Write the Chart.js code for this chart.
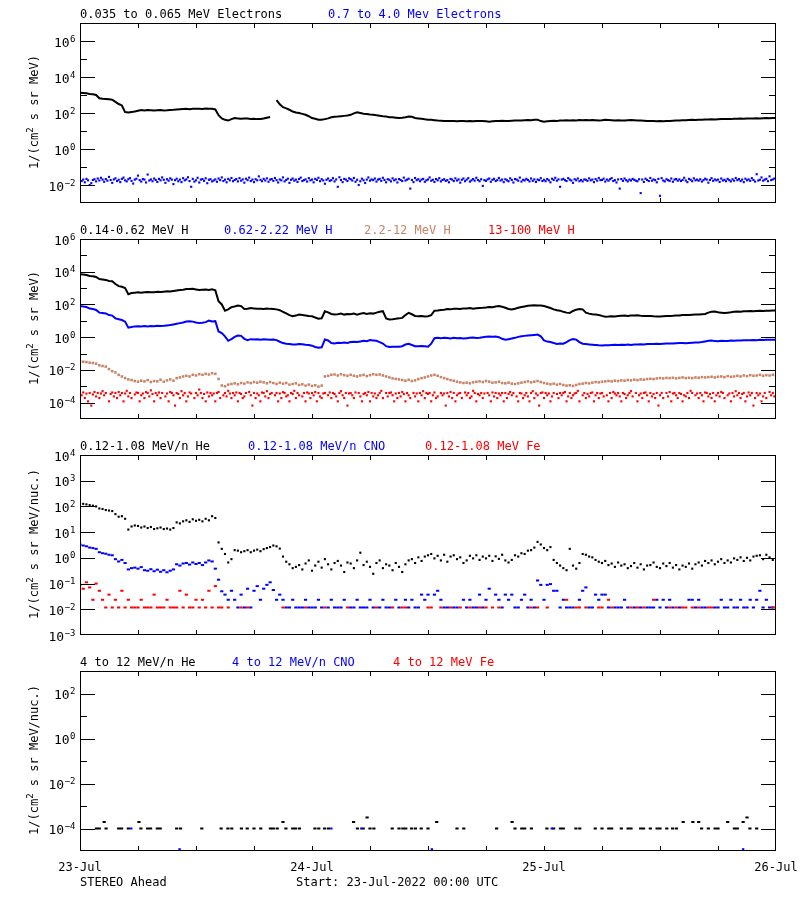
<!DOCTYPE html>
<html>
<head>
<meta charset="utf-8">
<script src="https://cdn.jsdelivr.net/npm/chart.js@4.4.0/dist/chart.umd.min.js"></script>
<style>
html, body { margin: 0; padding: 0; background: #fff; }
#wrap { position: relative; width: 800px; height: 900px; }
#wrap canvas { position: absolute; left: 0; top: 0; width: 800px; height: 900px; }
</style>
</head>
<body>
<div id="wrap">
	<canvas id="p1" width="800" height="900"></canvas>
	<canvas id="p2" width="800" height="900"></canvas>
	<canvas id="p3" width="800" height="900"></canvas>
	<canvas id="p4" width="800" height="900"></canvas>
</div>
<script>
// all values are log10 of the flux, hours from 23-Jul 00:00
const STEP = 1 / 3   // 20 min
const STEP_FINE = 1 / 6   // 10 min

const dateLabels = ['23-Jul', '24-Jul', '25-Jul', '26-Jul']
const dateHours = [0, 24, 48, 72]
const xTickHours = [6, 12, 18, 24, 30, 36, 42, 48, 54, 60, 66]

// --- panel 1 : electrons
const elecLow = [
	3.12,3.11,3.10, 3.06,3.04,3.00, 2.82,2.79,2.78, 2.76,2.74,2.62, 2.50,2.42,2.05, 2.03,2.06,2.08,
	2.12,2.16,2.14, 2.16,2.15,2.14, 2.15,2.16,2.14, 2.15,2.17,2.18, 2.20,2.21,2.22, 2.23,2.21,2.24,
	2.23,2.24,2.22, 2.25,2.24,2.23, 2.20,1.88,1.70, 1.62,1.58,1.66, 1.72,1.70,1.68, 1.70,1.69,1.67,
	1.68,1.66,1.67, 1.70,1.74,1.78, null,2.72,2.48, 2.32,2.26,2.18, 2.08,2.03,2.00, 1.95,1.90,1.82,
	1.72,1.68,1.63, 1.62,1.66,1.70, 1.76,1.79,1.80, 1.82,1.84,1.86, 1.90,1.98,2.04, 2.00,1.96,1.95,
	1.92,1.90,1.88, 1.85,1.82,1.80, 1.77,1.76,1.74, 1.72,1.73,1.76, 1.80,1.79,1.72, 1.70,1.68,1.65,
	1.63,1.62,1.60, 1.58,1.57,1.56, 1.56,1.55,1.55, 1.54,1.56,1.55, 1.54,1.55,1.54, 1.55,1.56,1.55,
	1.54,1.52,1.54, 1.55,1.56,1.57, 1.56,1.55,1.57, 1.58,1.59,1.58, 1.60,1.61,1.60, 1.62,1.63,1.55,
	1.52,1.54,1.56, 1.57,1.56,1.58, 1.59,1.60,1.59, 1.60,1.59,1.61, 1.60,1.61,1.60, 1.61,1.60,1.59,
	1.60,1.62,1.61, 1.60,1.59,1.60, 1.59,1.58,1.60, 1.61,1.60,1.59, 1.58,1.57,1.56, 1.56,1.55,1.54,
	1.55,1.54,1.55, 1.56,1.57,1.58, 1.59,1.60,1.60, 1.61,1.62,1.61, 1.62,1.63,1.64, 1.64,1.65,1.64,
	1.65,1.66,1.66, 1.67,1.66,1.68, 1.68,1.69,1.68, 1.70,1.69,1.70, 1.71,1.70,1.71, 1.72,1.71,1.72,
	1.72
]
const elecHigh = [
	-1.62,-1.78,-1.70,-1.85,-1.66,-1.74,-2.00,-1.90,-1.72,-1.68,-1.80,-1.64,
	-1.75,-1.60,-1.70,-1.82,-1.67,-1.76,-1.55,-1.72,-1.88,-1.69,-1.63,-1.78,
	-1.71,-1.84,-1.66,-1.59,-1.74,-1.80,-1.68,-1.62,-1.77,-1.92,-1.70,-1.65,
	-1.48,-1.73,-1.81,-1.67,-1.70,-1.86,-1.42,-1.75,-1.69,-1.79,-1.64,-1.72,
	-1.83,-1.66,-1.74,-1.58,-1.71,-1.88,-1.68,-1.76,-1.63,-1.70,-1.95,-1.73,
	-1.65,-1.79,-1.70,-1.84,-1.62,-1.74,-1.69,-1.57,-1.78,-2.10,-1.66,-1.81,
	-1.74,-1.60,-1.86,-1.70,-1.67,-1.77,-1.63,-1.90,-1.71,-1.68,-1.80,-1.75,
	-1.69,-1.82,-1.64,-1.73,-1.58,-1.78,-1.70,-1.85,-1.66,-1.74,-1.61,-1.79,
	-1.72,-1.67,-1.80,-1.62,-1.76,-1.69,-1.87,-1.65,-1.73,-1.59,-1.78,-1.70,
	-1.84,-1.68,-1.74,-1.52,-1.71,-1.79,-1.66,-1.75,-1.63,-1.82,-1.70,-1.67,
	-1.77,-1.61,-1.73,-1.86,-1.69,-1.74,-1.58,-1.80,-1.72,-1.65,-1.88,-1.71,
	-1.64,-1.76,-1.70,-1.83,-1.67,-1.59,-1.78,-1.73,-1.69,-1.81,-1.62,-1.74,
	-1.70,-1.85,-1.66,-1.72,-1.60,-1.79,-1.68,-1.75,-1.93,-1.71,-1.64,-1.77,
	-1.73,-1.62,-1.80,-1.69,-2.10,-1.57,-1.72,-1.84,-1.66,-1.70,-1.78,-1.63,
	-1.68,-1.75,-1.61,-1.82,-1.71,-2.00,-1.79,-1.65,-1.74,-1.89,-1.70,-1.58,
	-1.76,-1.69,-1.73,-1.64,-1.81,-1.70,-1.66,-1.77,-1.60,-1.72,-1.85,-1.68,
	-1.71,-1.80,-1.63,-1.74,-1.69,-1.86,-1.67,-1.72,-1.78,-1.59,-1.75,-1.70,
	-1.65,-2.20,-1.72,-1.84,-1.61,-1.73,-1.68,-1.79,-1.70,-1.66,-1.82,-1.74,
	-1.69,-1.58,-1.76,-1.71,-1.83,-1.67,-1.74,-1.62,-1.80,-1.72,-1.68,-1.77,
	-1.73,-1.85,-1.66,-1.70,-1.78,-1.63,-1.75,-1.69,-1.87,-1.71,-1.64,-1.79,
	-1.70,-1.62,-1.81,-1.74,-1.67,-1.76,-1.60,-1.72,-1.79,-1.68,-2.05,-1.73,
	-1.77,-1.69,-1.64,-1.82,-1.71,-1.66,-1.78,-1.73,-1.61,-1.75,-1.70,-1.84,
	-1.68,-1.74,-1.79,-1.63,-1.72,-1.86,-1.67,-1.70,-1.76,-1.59,-1.81,-1.71,
	-1.75,-1.66,-1.72,-1.80,-1.64,-1.77,-1.69,-1.83,-1.70,-1.73,-1.62,-1.78,
	-1.71,-1.79,-1.67,-1.74,-1.85,-1.65,-1.72,-1.60,-1.76,-1.69,-2.10,-1.70,
	-1.66,-1.73,-1.78,-1.62,-1.70,-1.75,-1.88,-1.68,-1.74,-1.64,-1.79,-1.72,
	-1.80,-1.69,-1.71,-1.77,-1.63,-1.74,-1.70,-1.84,-1.67,-1.76,-1.61,-1.73,
	-1.72,-1.65,-1.81,-1.70,-1.76,-1.68,-1.62,-1.78,-1.73,-1.86,-1.69,-2.20,
	-1.67,-1.77,-1.64,-1.73,-1.80,-1.70,-1.75,-1.66,-1.71,-1.76,-1.79,-1.68,
	-2.45,-1.70,-1.83,-1.65,-1.72,-1.78,-1.61,-1.76,-1.69,-1.73,-1.85,-1.66,
	-2.60,-1.62,-1.75,-1.80,-1.68,-1.73,-1.77,-1.64,-1.82,-1.70,-1.67,-1.76,
	-1.69,-1.78,-1.72,-1.60,-1.75,-1.84,-1.66,-1.71,-1.79,-1.63,-1.74,-1.70,
	-1.76,-1.68,-1.81,-1.73,-1.65,-1.70,-1.87,-1.72,-1.62,-1.77,-1.69,-1.74,
	-1.70,-1.83,-1.64,-1.75,-1.71,-1.79,-1.66,-1.73,-1.80,-1.68,-1.76,-1.61,
	-1.73,-1.67,-1.78,-1.70,-1.84,-1.65,-1.74,-1.69,-1.77,-1.62,-1.72,-1.81,
	-1.40,-1.75,-1.71,-1.58,-1.76,-1.70,-1.66,-1.79,-1.52,-1.73,-1.69,-1.64,
	-1.70
]

// --- panel 2 : protons
const hLow = [
	3.85,3.83,3.80, 3.74,3.72,3.68, 3.55,3.53,3.50, 3.44,3.42,3.25, 3.12,3.08,3.00, 2.63,2.70,2.72,
	2.74,2.72,2.75, 2.76,2.74,2.75, 2.77,2.76,2.78, 2.80,2.79,2.82, 2.85,2.88,2.90, 2.95,2.94,2.96,
	2.92,2.88,2.90, 2.91,2.89,2.93, 2.86,2.20,2.00, 1.62,1.70,1.84, 1.88,1.94,1.90, 1.72,1.74,1.78,
	1.76,1.74,1.73, 1.72,1.75,1.73, 1.72,1.70,1.65, 1.55,1.45,1.35, 1.28,1.32,1.39, 1.36,1.33,1.30,
	1.28,1.20,1.13, 1.15,1.58,1.52, 1.42,1.38,1.40, 1.44,1.38,1.42, 1.40,1.45,1.38, 1.43,1.47,1.42,
	1.46,1.44,1.50, 1.55,1.59,1.15, 1.08,1.10,1.13, 1.15,1.18,1.35, 1.49,1.40,1.30, 1.28,1.30,1.26,
	1.28,1.35,1.62, 1.63,1.66,1.68, 1.72,1.70,1.74, 1.73,1.72,1.76, 1.75,1.78,1.74, 1.77,1.79,1.80,
	1.82,1.85,1.83, 1.88,1.90,1.86, 1.80,1.72,1.69, 1.74,1.80,1.84, 1.88,1.92,1.94, 1.95,1.94,1.93,
	1.90,1.84,1.78, 1.70,1.65,1.62, 1.55,1.50,1.48, 1.60,1.68,1.72, 1.70,1.50,1.44, 1.40,1.38,1.36,
	1.30,1.25,1.26, 1.28,1.27,1.30, 1.31,1.32,1.30, 1.33,1.32,1.34, 1.31,1.30,1.29, 1.30,1.28,1.27,
	1.27,1.28,1.29, 1.30,1.31,1.33, 1.33,1.35,1.36, 1.35,1.37,1.38, 1.38,1.40,1.42, 1.50,1.55,1.57,
	1.52,1.50,1.48, 1.50,1.52,1.55, 1.57,1.56,1.58, 1.58,1.60,1.59, 1.60,1.61,1.60, 1.62,1.61,1.63,
	1.63
]
const hMid = [
	1.90,1.88,1.84, 1.75,1.72,1.66, 1.50,1.48,1.45, 1.35,1.32,1.15, 1.10,1.05,0.95, 0.58,0.62,0.66,
	0.67,0.65,0.68, 0.66,0.68,0.67, 0.70,0.69,0.70, 0.72,0.74,0.78, 0.82,0.86,0.90, 0.96,0.98,0.95,
	0.90,0.86,0.88, 0.92,1.02,0.96, 0.98,0.35,0.25, 0.05,-0.22,-0.12, 0.02,0.10,0.08, -0.10,-0.18,-0.12,
	-0.14,-0.12,-0.15, -0.13,-0.14,-0.16, -0.14,-0.18,-0.28, -0.36,-0.40,-0.42, -0.45,-0.44,-0.42, -0.43,-0.46,-0.48,
	-0.52,-0.60,-0.65, -0.62,-0.14,-0.20, -0.36,-0.39,-0.34, -0.36,-0.32,-0.35, -0.30,-0.28,-0.30, -0.26,-0.22,-0.25,
	-0.18,-0.20,-0.22, -0.30,-0.39,-0.55, -0.60,-0.58,-0.59, -0.59,-0.55,-0.45, -0.41,-0.48,-0.55, -0.55,-0.54,-0.56,
	-0.58,-0.40,-0.06, -0.04,-0.06,-0.03, -0.05,-0.08,-0.04, -0.06,-0.05,-0.08, -0.06,-0.04,-0.02, -0.05,-0.03,0.00,
	0.02,0.04,0.02, 0.04,0.00,-0.10, -0.16,-0.12,-0.08, -0.04,0.02,0.06, 0.08,0.10,0.12, 0.14,0.16,0.05,
	-0.20,-0.27,-0.30, -0.36,-0.41,-0.38, -0.40,-0.30,-0.18, -0.12,-0.15,-0.30, -0.40,-0.42,-0.44, -0.46,-0.48,-0.50,
	-0.51,-0.49,-0.50, -0.48,-0.47,-0.48, -0.46,-0.47,-0.45, -0.47,-0.45,-0.44, -0.43,-0.44,-0.42, -0.41,-0.42,-0.40,
	-0.41,-0.40,-0.39, -0.38,-0.39,-0.37, -0.36,-0.35,-0.37, -0.35,-0.34,-0.33, -0.32,-0.30,-0.26, -0.22,-0.20,-0.24,
	-0.25,-0.22,-0.24, -0.23,-0.21,-0.22, -0.20,-0.21,-0.19, -0.18,-0.19,-0.17, -0.18,-0.16,-0.17, -0.15,-0.16,-0.15,
	-0.16
]
const hHigh = [
	-1.47,-1.50,-1.52, -1.56,-1.58,-1.62, -1.72,-1.76,-1.80, -1.95,-2.08,-2.15, -2.30,-2.40,-2.50, -2.58,-2.62,-2.68,
	-2.72,-2.66,-2.70, -2.62,-2.74,-2.68, -2.70,-2.60,-2.72, -2.64,-2.58,-2.66, -2.50,-2.46,-2.40, -2.36,-2.40,-2.30,
	-2.34,-2.26,-2.30, -2.24,-2.28,-2.20, -2.24,-2.55,-2.95, -3.00,-2.90,-2.86, -2.82,-2.88,-2.80, -2.84,-2.76,-2.80,
	-2.74,-2.78,-2.72, -2.76,-2.82,-2.74, -2.80,-2.86,-2.78, -2.84,-2.80,-2.90, -2.86,-2.82,-2.92, -2.88,-2.96,-2.90,
	-2.98,-2.94,-3.02, -2.96,-2.40,-2.36, -2.30,-2.28,-2.34, -2.26,-2.32,-2.36, -2.30,-2.36,-2.40, -2.34,-2.30,-2.38,
	-2.32,-2.26,-2.30, -2.28,-2.34,-2.40, -2.46,-2.52,-2.55, -2.58,-2.62,-2.66, -2.60,-2.68,-2.64, -2.56,-2.50,-2.46,
	-2.40,-2.34,-2.30, -2.36,-2.44,-2.50, -2.56,-2.62,-2.66, -2.72,-2.76,-2.80, -2.78,-2.82,-2.76, -2.72,-2.70,-2.74,
	-2.68,-2.72,-2.78, -2.76,-2.72,-2.80, -2.82,-2.78,-2.84, -2.86,-2.82,-2.78, -2.74,-2.70,-2.76, -2.72,-2.68,-2.74,
	-2.80,-2.84,-2.88, -2.84,-2.90,-2.86, -2.92,-2.96,-2.94, -2.98,-2.92,-2.86, -2.84,-2.80,-2.82, -2.78,-2.74,-2.76,
	-2.72,-2.70,-2.68, -2.70,-2.66,-2.68, -2.64,-2.66,-2.62, -2.64,-2.60,-2.62, -2.58,-2.60,-2.56, -2.54,-2.56,-2.52,
	-2.50,-2.52,-2.49, -2.50,-2.48,-2.52, -2.49,-2.46,-2.50, -2.48,-2.50,-2.46, -2.48,-2.44,-2.46, -2.44,-2.42,-2.46,
	-2.42,-2.40,-2.44, -2.38,-2.42,-2.40, -2.36,-2.40,-2.34, -2.38,-2.32,-2.36, -2.34,-2.30,-2.36, -2.32,-2.34,-2.30,
	-2.32
]
const hTop = [
	-3.41,-3.55,-3.38,-3.72,-3.45,-3.92,-3.41,-4.18,-3.50,-3.35,-3.62,-3.41,
	-3.72,-3.44,-3.30,-3.55,-3.41,null,-3.92,-3.47,-3.38,-3.62,-3.41,-3.72,
	-3.35,-3.55,-3.41,-3.92,-3.44,-3.28,-3.62,-3.41,-3.72,null,-3.50,-3.38,
	-3.41,-3.92,-3.55,-3.44,-3.72,-3.36,-3.41,-3.62,-3.25,-3.47,-3.92,-3.41,
	-3.55,-3.38,-3.72,-3.41,null,-3.62,-3.44,-3.92,-3.35,-3.41,-3.55,-4.18,
	-3.41,-3.47,-3.72,-3.30,-3.55,-3.41,-3.92,-3.62,-3.38,-3.44,null,-3.72,
	-3.41,-3.55,-3.20,-3.41,-3.72,-3.47,-3.92,-3.38,-3.62,-3.41,-3.55,-3.44,
	-3.92,-3.41,-3.35,-3.72,null,-3.55,-3.41,-3.62,-3.28,-3.44,-3.72,-3.41,
	-3.55,-3.38,-3.92,-3.41,-3.47,-3.72,-3.62,-3.41,null,-3.35,-3.55,-4.18,
	-3.41,-3.72,-3.44,-3.55,-3.92,-3.38,-3.41,-3.62,-3.30,-3.72,-3.47,-3.41,
	null,-3.55,-3.41,-3.92,-3.44,-3.72,-3.36,-3.41,-3.62,-3.55,-3.92,-3.41,
	-3.47,-3.28,-3.72,-3.41,-3.55,null,-3.62,-3.41,-3.92,-3.38,-3.44,-3.72,
	-3.41,-3.55,-3.35,-3.92,-3.41,-3.62,-3.72,-3.44,-3.41,null,-3.55,-3.38,
	-3.72,-3.41,-3.47,-3.62,-3.92,-3.41,-3.30,-3.55,-3.72,-3.41,-4.18,-3.44,
	-3.41,-3.55,-3.72,-3.38,null,-3.41,-3.62,-3.92,-3.47,-3.41,-3.55,-3.35,
	-3.92,-3.41,-3.62,-3.44,-3.72,-3.55,-3.41,-3.28,-3.72,null,-3.41,-3.62,
	-3.41,-3.38,-3.55,-3.92,-3.44,-3.72,-3.41,-3.62,-3.35,-3.47,-3.92,-3.41,
	-3.55,-3.72,null,-3.41,-3.62,-3.44,-3.92,-3.41,-3.55,-3.30,-3.72,-3.41,
	-3.47,-3.41,-3.92,-3.55,-3.38,-3.72,-3.62,null,-3.41,-3.55,-3.44,-4.18,
	-3.41,-3.62,-3.35,-3.72,-3.41,-3.92,-3.55,-3.44,-3.41,-3.72,null,-3.38,
	-3.55,-3.41,-3.72,-3.62,-3.28,-3.41,-3.92,-3.47,-3.55,-3.41,-3.72,-3.44,
	null,-3.41,-3.55,-3.92,-3.38,-3.62,-3.41,-3.72,-3.44,-3.55,-3.41,-3.92,
	-3.41,-3.72,-3.47,-3.35,-3.55,-3.41,null,-3.62,-3.92,-3.41,-3.44,-3.72,
	-3.55,-3.41,-3.62,-3.92,-3.41,-3.30,-3.72,-3.44,-3.55,-4.18,-3.41,-3.38,
	-3.72,-3.41,-3.55,-3.44,-3.92,-3.62,-3.41,null,-3.47,-3.72,-3.41,-3.55,
	-3.41,-3.35,-3.92,-3.62,-3.41,-3.72,-3.55,-3.44,-3.41,-3.28,-3.92,null,
	-3.55,-3.41,-3.72,-3.47,-3.62,-3.41,-3.38,-3.92,-3.55,-3.41,-3.72,-3.44,
	-3.41,-3.62,null,-3.55,-3.92,-3.41,-3.72,-3.35,-3.44,-3.55,-3.41,-3.62,
	-3.92,-3.41,-3.47,-3.72,-3.55,-3.41,-3.30,-3.62,null,-3.41,-3.92,-3.55,
	-3.44,-3.72,-3.41,-3.38,-3.55,-3.92,-3.41,-3.62,-3.47,-3.72,-3.41,-4.18,
	-3.55,-3.41,-3.72,null,-3.41,-3.62,-3.35,-3.92,-3.44,-3.41,-3.55,-3.72,
	-3.41,-3.47,-3.92,-3.55,-3.62,-3.41,-3.72,-3.28,-3.41,null,-3.55,-3.44,
	-3.72,-3.41,-3.55,-3.92,-3.38,-3.41,-3.62,-3.47,-3.72,-3.41,-3.92,-3.55,
	-3.41,-3.62,-3.35,-3.41,-3.72,null,-3.55,-3.44,-3.92,-3.41,-3.62,-3.30,
	-3.55,-3.41,-3.72,-3.47,-3.41,-3.92,-3.62,-3.38,-3.55,-3.41,-4.18,-3.72,
	-3.41,-3.55,-3.44,-3.92,-3.62,-3.41,-3.72,null,-3.35,-3.55,-3.41,-3.62,
	-4.18
]

// --- panel 3 : 0.12-1.08 MeV/n ions
const heLow = [
	2.12,2.10,2.08, 2.05,2.03,2.00, 1.92,1.90,1.86, 1.84,1.82,1.70, 1.60,1.62,1.52, 1.10,1.22,1.26,
	1.24,1.18,1.22, 1.16,1.20,1.12, 1.15,1.18,1.12, 1.14,1.10,1.16, 1.38,1.34,1.42, 1.46,1.40,1.50,
	1.44,1.48,1.42, 1.52,1.46,1.62, 1.55,0.60,0.35, 0.15,-0.18,-0.05, 0.30,0.28,0.22, 0.26,0.30,0.22,
	0.28,0.32,0.26, 0.34,0.38,0.42, 0.48,0.45,0.36, 0.05,-0.15,-0.25, -0.40,-0.35,-0.28, -0.45,-0.22,-0.10,
	-0.50,-0.30,-0.15, -0.38,-0.05,-0.25, -0.45,-0.20,-0.12, -0.30,-0.55,-0.18, -0.22,-0.40,-0.10, 0.20,-0.28,-0.15,
	-0.35,-0.62,-0.20, -0.10,-0.40,-0.25, -0.30,-0.48,-0.20, -0.35,-0.55,-0.25, -0.10,-0.05,-0.20, 0.02,-0.12,0.05,
	0.10,0.15,-0.02, 0.08,-0.10,0.12, -0.15,0.05,0.10, -0.05,0.02,-0.20, -0.10,0.08,-0.02, 0.10,-0.08,0.05,
	-0.02,0.08,-0.12, 0.06,-0.04,0.12, -0.10,-0.18,-0.08, 0.10,0.05,0.18, 0.15,0.28,0.30, 0.40,0.62,0.52,
	0.38,0.30,0.42, -0.08,-0.20,-0.30, -0.40,-0.48,0.35, -0.30,-0.42,-0.20, 0.15,0.12,0.05, 0.02,-0.08,-0.15,
	-0.20,-0.12,-0.28, -0.22,-0.35,-0.18, -0.30,-0.25,-0.40, -0.32,-0.20,-0.38, -0.25,-0.45,-0.30, -0.28,-0.18,-0.35,
	-0.40,-0.22,-0.32, -0.20,-0.38,-0.28, -0.45,-0.30,-0.35, -0.22,-0.42,-0.25, -0.18,-0.30,-0.12, -0.20,-0.10,-0.25,
	-0.15,-0.05,-0.20, -0.10,-0.18,-0.02, -0.08,0.02,-0.12, 0.00,-0.10,0.05, 0.08,0.10,-0.05, 0.12,0.02,-0.08,
	0.05
]
const heCno = [
	0.52,0.48,0.45, 0.40,0.38,0.35, 0.22,0.18,0.16, 0.12,0.10,-0.05, -0.14,-0.08,-0.20, -0.45,-0.40,-0.38,
	-0.42,-0.36,-0.48, -0.50,-0.44,-0.52, -0.46,-0.54,-0.48, -0.56,-0.50,-0.45, -0.25,-0.30,-0.22, -0.20,-0.26,-0.18,
	-0.24,-0.20,-0.28, -0.18,-0.10,-0.14, -0.42,-0.85,-1.30, -1.43,-1.63,-1.28, -1.63,-1.93,-1.43, -1.93,-1.20,-1.93,
	-1.28,-1.10,-1.63, -1.20,-1.05,-0.95, -1.25,-1.63,-1.43, -1.63,-1.93,-1.93, -1.63,-1.93,-1.93, -1.93,-1.63,-1.93,
	-1.93,-1.93,-1.63, -1.93,null,-1.93, -1.63,-1.93,-1.93, -1.93,-1.63,null, -1.93,-1.93,-1.63, -1.93,-1.93,-1.93,
	-1.63,-1.93,null, -1.93,-1.63,-1.93, -1.93,null,-1.63, -1.93,null,-1.63, -1.93,-1.63,-1.93, -1.93,-1.43,-1.63,
	-1.43,null,-1.43, -1.28,-1.63,-1.93, -1.93,null,-1.93, -1.93,null,-1.63, -1.93,-1.63,-1.93, -1.93,-1.43,-1.93,
	-1.63,-1.20,null, -1.43,-1.63,-1.93, -1.43,-1.63,-1.43, -1.93,-1.93,-1.63, -1.43,-1.93,-1.63, -1.93,-0.88,-1.05,
	-1.63,-1.05,-1.02, -1.28,-1.28,-1.93, -1.63,-1.93,-1.93, -1.93,null,-1.63, -1.28,-1.15,-1.93, -1.93,-1.43,-1.63,
	-1.43,-1.43,-1.93, null,-1.93,-1.93, -1.93,-1.63,-1.93, null,-1.93,null, -1.93,null,-1.93, -1.93,-1.93,-1.63,
	-1.93,-1.63,-1.93, -1.63,-1.93,null, -1.93,null,null, -1.63,-1.63,-1.93, -1.63,-1.93,-1.93, null,null,-1.93,
	-1.93,-1.63,-1.93, -1.93,-1.63,-1.93, -1.93,-1.63,-1.93, -1.93,-1.63,-1.93, -1.63,-1.28,-1.93, -1.63,-1.93,
	-1.93
]
const heFe = [
	-1.05,-1.20,-0.95, -1.15,-1.63,-1.00, -1.28,-1.63,-1.93, -1.43,-1.93,-1.63, -1.93,-1.28,-1.93, -1.63,-1.93,-1.93,
	-1.93,-1.63,-1.93, -1.93,-1.93,-1.43, -1.93,-1.93,-1.93, -1.63,-1.93,-1.93, -1.93,-1.28,-1.93, -1.43,-1.93,-1.93,
	-1.63,-1.93,-1.63, -1.93,-1.28,-1.93, -1.10,-1.93,-1.93, null,-1.93,null, null,null,-1.93, null,-1.93,null,
	null,null,null, null,null,null, null,null,null, -1.93,null,null, null,null,null, null,-1.93,null,
	null,null,null, null,-1.93,null, null,null,null, null,null,-1.93, null,null,null, null,null,null,
	null,null,-1.93, null,null,null, null,-1.93,null, null,-1.93,-1.93, null,null,null, null,null,null,
	-1.93,-1.93,null, null,-1.93,null, null,-1.93,null, null,-1.93,null, null,-1.93,null, null,-1.93,null,
	-1.93,null,-1.93, null,-1.93,null, null,null,null, null,null,null, null,null,-1.93, null,-1.93,null,
	null,-1.93,null, null,null,null, null,-1.63,null, null,-1.93,-1.93, null,-1.93,null, null,null,-1.93,
	-1.93,null,-1.63, -1.93,null,null, null,null,null, -1.93,null,-1.93, null,-1.93,null, null,-1.63,null,
	null,null,null, -1.93,null,-1.93, null,-1.93,-1.93, null,-1.93,null, -1.93,null,null, -1.93,-1.93,null,
	null,null,null, null,null,null, null,null,null, null,null,null, null,null,null, null,null,-1.93,
	-1.93,-1.93,-1.93, -1.93,-1.93
]

// --- panel 4 : 4-12 MeV/n ions (sparse points, hour + log10 value)
const heHighHours = [
	1.7, 2.0, 2.5, 2.7, 4.0, 4.3, 5.0, 6.1, 6.3, 7.0, 7.3, 8.0, 8.3, 10.0, 10.4, 12.6, 14.6, 15.3, 15.7,
	16.7, 17.3, 18.0, 18.7, 19.7, 20.0, 20.4, 21.0, 21.3, 22.0, 22.3, 22.7, 24.3, 24.7, 25.3, 25.7,
	28.3, 28.7, 29.3, 29.7, 30.0, 30.4, 32.3, 33.0, 33.4, 33.7, 34.3, 34.7, 35.3, 36.0, 36.9, 39.0,
	39.7, 43.1, 44.7, 45.0, 45.7, 46.0, 46.7, 48.3, 49.0, 49.7, 50.0, 51.3, 51.7, 53.3, 54.0, 54.7,
	55.0, 56.0, 56.7, 57.0, 58.0, 58.3, 59.0, 59.7, 60.0, 60.7, 61.3, 61.7, 62.4, 63.4, 64.0, 64.3,
	65.0, 65.7, 66.0, 67.0, 67.7, 68.0, 68.6, 69.0, 69.3, 70.0
]
const heHighVals = [
	-4, -4, -3.71, -4, -4, -4, -4, -3.71, -4, -4, -4, -4, -4, -4, -4, -4, -4, -4, -4,
	-4, -4, -4, -4, -4, -4, -4, -3.71, -4, -4, -4, -4, -4, -4, -4, -4,
	-3.71, -4, -4, -3.51, -4, -4, -4, -4, -4, -4, -4, -4, -4, -4, -3.71, -4,
	-4, -4, -3.71, -4, -4, -4, -4, -4, -4, -4, -4, -4, -4, -4, -4, -4,
	-4, -4, -4, -4, -4, -4, -4, -4, -4, -4, -4, -4, -3.71, -3.71, -3.71, -4,
	-4, -4, -4, -3.71, -4, -4, -3.71, -3.51, -4, -4
]
const cnoHighHours = [5.3, 10.3, 26.0, 29.1, 36.4, 48.8, 68.6]
const cnoHighVals = [-4, -4.92, -4, -4, -4.92, -4, -4.92]
const feHighHours = []
const feHighVals = []

// --------------------------------------------------------------
const FONT = '"DejaVu Sans Mono", monospace'
const BLACK = '#000000', BLUE = '#0000ff', BROWN = 'rgb(200,132,104)', RED = '#ff0000'

function pts(vals, step) {
	return vals.map((v, i) => ({ x: i * step, y: v === null ? null : Math.pow(10, v) }))
}
function ptsXY(hours, vals) {
	return hours.map((h, i) => ({ x: h, y: Math.pow(10, vals[i]) }))
}
function lineSet(data, color, w) {
	return { data, showLine: true, borderColor: color, borderWidth: w || 2, pointRadius: 0, spanGaps: false, fill: false }
}
function dotSet(data, color, style, r) {
	return {
		data, showLine: false,
		pointStyle: style || 'rect',
		pointRadius: r || 1.5,
		pointBorderWidth: style === 'line' ? 2 : 0,
		pointBackgroundColor: color, pointBorderColor: color
	}
}

// 10 with a superscript exponent
function drawPow(ctx, e, xRight, yPix) {
	const ex = e < 0 ? '\u2212' + (-e) : String(e)
	ctx.font = '13px ' + FONT
	const wb = ctx.measureText('10').width
	ctx.font = '9px ' + FONT
	const we = ctx.measureText(ex).width
	const x0 = xRight - wb - we
	ctx.font = '13px ' + FONT
	ctx.fillText('10', x0, yPix + 5.5)
	ctx.font = '9px ' + FONT
	ctx.fillText(ex, x0 + wb + 0.5, yPix + 0.5)
}

const idlFrame = {
	id: 'idlFrame',
	afterDatasetsDraw(chart, args, o) {
		const { ctx, chartArea: a } = chart
		const x = chart.scales.x, y = chart.scales.y
		ctx.save()
		ctx.strokeStyle = '#000'
		ctx.lineWidth = 1
		ctx.strokeRect(a.left + 0.5, a.top + 0.5, a.right - a.left - 1, a.bottom - a.top - 1)

		ctx.beginPath()
		xTickHours.forEach(h => {
			const px = Math.round(x.getPixelForValue(h)) + 0.5
			ctx.moveTo(px, a.top); ctx.lineTo(px, a.top + 5)
			ctx.moveTo(px, a.bottom); ctx.lineTo(px, a.bottom - 5)
		})
		for (let e = o.lo + 1; e < o.hi; e++) {
			const py = Math.round(y.getPixelForValue(Math.pow(10, e))) + 0.5
			const len = o.labels.includes(e) ? 15 : 7
			ctx.moveTo(a.left, py); ctx.lineTo(a.left + len, py)
			ctx.moveTo(a.right, py); ctx.lineTo(a.right - len, py)
		}
		ctx.stroke()

		// tick labels
		ctx.fillStyle = '#000'
		ctx.textAlign = 'left'
		ctx.textBaseline = 'alphabetic'
		o.labels.forEach(e => drawPow(ctx, e, 75, y.getPixelForValue(Math.pow(10, e))))

		// rotated axis title with superscript 2
		ctx.save()
		ctx.translate(38, (a.top + a.bottom) / 2 - 1)
		ctx.rotate(-Math.PI / 2)
		ctx.font = '12px ' + FONT
		const p1 = '1/(cm', p3 = ' s sr ' + o.unit + ')'
		const w1 = ctx.measureText(p1).width, w3 = ctx.measureText(p3).width
		ctx.font = '9px ' + FONT
		const w2 = ctx.measureText('2').width
		let tx = -(w1 + w2 + w3) / 2
		ctx.font = '12px ' + FONT
		ctx.fillText(p1, tx, 0)
		ctx.font = '9px ' + FONT
		ctx.fillText('2', tx + w1, -5)
		ctx.font = '12px ' + FONT
		ctx.fillText(p3, tx + w1 + w2, 0)
		ctx.restore()

		// panel title
		ctx.font = '12px ' + FONT
		o.titles.forEach(t => {
			ctx.fillStyle = t.c
			ctx.fillText(t.t, t.x, a.top - 5)
		})

		// dates and footer below the last panel
		if (o.dates) {
			ctx.fillStyle = '#000'
			ctx.textAlign = 'center'
			dateLabels.forEach((d, i) => ctx.fillText(d, x.getPixelForValue(dateHours[i]), a.bottom + 20))
			ctx.textAlign = 'left'
			ctx.fillText('STEREO Ahead', 80, a.bottom + 35)
			ctx.fillText('Start: 23-Jul-2022 00:00 UTC', 296, a.bottom + 35)
		}
		ctx.restore()
	}
}

function makePanel(id, top, lo, hi, datasets, frame) {
	frame.lo = lo
	frame.hi = hi
	return new Chart(document.getElementById(id), {
		type: 'scatter',
		data: { datasets },
		options: {
			responsive: false,
			animation: false,
			events: [],
			layout: { padding: { left: 80, right: 24, top: top, bottom: 900 - top - 180 } },
			plugins: {
				legend: { display: false },
				tooltip: { enabled: false },
				idlFrame: frame
			},
			scales: {
				x: { type: 'linear', min: 0, max: 72, display: false },
				y: { type: 'logarithmic', min: Math.pow(10, lo), max: Math.pow(10, hi), display: false }
			}
		},
		plugins: [idlFrame]
	})
}

// panel 1
makePanel('p1', 23, -3, 7, [
	lineSet(pts(elecLow, STEP), BLACK),
	dotSet(pts(elecHigh, STEP_FINE), BLUE)
], {
	labels: [6, 4, 2, 0, -2], unit: 'MeV',
	titles: [
		{ t: '0.035 to 0.065 MeV Electrons', x: 80, c: BLACK },
		{ t: '0.7 to 4.0 Mev Electrons', x: 328, c: BLUE }
	]
})

// panel 2
makePanel('p2', 239, -5, 6, [
	lineSet(pts(hLow, STEP), BLACK),
	lineSet(pts(hMid, STEP), BLUE),
	dotSet(pts(hHigh, STEP), BROWN, 'rect', 1.8),
	dotSet(pts(hTop, STEP_FINE), RED)
], {
	labels: [6, 4, 2, 0, -2, -4], unit: 'MeV',
	titles: [
		{ t: '0.14-0.62 MeV H', x: 80, c: BLACK },
		{ t: '0.62-2.22 MeV H', x: 224, c: BLUE },
		{ t: '2.2-12 MeV H', x: 364, c: BROWN },
		{ t: '13-100 MeV H', x: 488, c: RED }
	]
})

// panel 3
makePanel('p3', 455, -3, 4, [
	dotSet(pts(heFe, STEP), RED, 'line', 1.6),
	dotSet(pts(heCno, STEP), BLUE, 'line', 1.6),
	dotSet(pts(heLow, STEP), BLACK, 'rect', 1.5)
], {
	labels: [4, 3, 2, 1, 0, -1, -2, -3], unit: 'MeV/nuc.',
	titles: [
		{ t: '0.12-1.08 MeV/n He', x: 80, c: BLACK },
		{ t: '0.12-1.08 MeV/n CNO', x: 248, c: BLUE },
		{ t: '0.12-1.08 MeV Fe', x: 425, c: RED }
	]
})

// panel 4
makePanel('p4', 671, -5, 3, [
	dotSet(ptsXY(feHighHours, feHighVals), RED, 'line', 1.6),
	dotSet(ptsXY(cnoHighHours, cnoHighVals), BLUE, 'line', 1.2),
	dotSet(ptsXY(heHighHours, heHighVals), BLACK, 'line', 1.6)
], {
	labels: [2, 0, -2, -4], unit: 'MeV/nuc.', dates: true,
	titles: [
		{ t: '4 to 12 MeV/n He', x: 80, c: BLACK },
		{ t: '4 to 12 MeV/n CNO', x: 232, c: BLUE },
		{ t: '4 to 12 MeV Fe', x: 393, c: RED }
	]
})
</script>
</body>
</html>
